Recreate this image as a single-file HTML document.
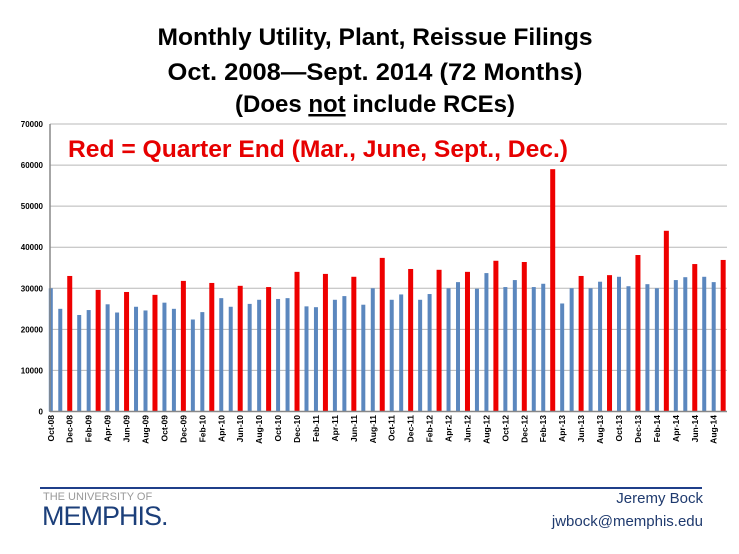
<!DOCTYPE html>
<html><head><meta charset="utf-8"><style>
html,body{margin:0;padding:0;background:#fff;}
</style></head><body>
<svg width="739" height="549" xmlns="http://www.w3.org/2000/svg" font-family="Liberation Sans, sans-serif">
<rect width="739" height="549" fill="#fff"/>
<g font-weight="bold" text-anchor="middle" fill="#000">
<text x="375" y="45" font-size="24.5" textLength="435" lengthAdjust="spacingAndGlyphs">Monthly Utility, Plant, Reissue Filings</text>
<text x="375" y="80" font-size="24.5" textLength="415" lengthAdjust="spacingAndGlyphs">Oct. 2008—Sept. 2014 (72 Months)</text>
<text x="375" y="112" font-size="24.5" textLength="280" lengthAdjust="spacingAndGlyphs">(Does <tspan text-decoration="underline">not</tspan> include RCEs)</text>
</g>
<g id="grid" stroke="#b8b8b8" stroke-width="1"></g>
<g id="bars"></g>
<line x1="50" y1="124" x2="50" y2="412" stroke="#888" stroke-width="1.5"/>
<line x1="50" y1="411.5" x2="727" y2="411.5" stroke="#888" stroke-width="1.5"/>
<g id="ylab" font-size="8" font-weight="bold" text-anchor="end" fill="#000"></g>
<g id="xlab" font-size="8.5" font-weight="bold" text-anchor="end" fill="#000"></g>
<text x="68" y="157" font-size="24" font-weight="bold" fill="#e60000" textLength="500" lengthAdjust="spacingAndGlyphs">Red = Quarter End (Mar., June, Sept., Dec.)</text>
<line x1="40" y1="488" x2="702" y2="488" stroke="#1f3f8a" stroke-width="2"/>
<text x="43" y="500" font-size="11" fill="#999">THE UNIVERSITY OF</text>
<text x="42" y="525" font-size="27" fill="#1c3f7a" letter-spacing="-1">MEMPHIS.</text>
<text x="703" y="503" font-size="15" fill="#1f3a6e" text-anchor="end">Jeremy Bock</text>
<text x="703" y="526" font-size="15" fill="#1f3a6e" text-anchor="end">jwbock@memphis.edu</text>
</svg>
<script>
var v=[30000,25000,33000,23500,24700,29600,26100,24100,29100,25500,24600,28400,26500,25000,31800,22400,24200,31300,27600,25500,30600,26200,27200,30300,27400,27600,34000,25600,25400,33500,27200,28100,32800,26000,30000,37400,27200,28500,34700,27200,28600,34500,30000,31500,34000,29900,33700,36700,30300,32000,36400,30300,31100,59000,26300,30000,33000,30000,31600,33200,32800,30500,38100,31000,30000,44000,32000,32700,35900,32800,31500,36900];
var mon=["Jan","Feb","Mar","Apr","May","Jun","Jul","Aug","Sep","Oct","Nov","Dec"];
var ns="http://www.w3.org/2000/svg";
function el(t,a,p,txt){var e=document.createElementNS(ns,t);for(var k in a)e.setAttribute(k,a[k]);if(txt)e.textContent=txt;document.getElementById(p).appendChild(e);}
var y0=411.5,sc=287.5/70000;
for(var i=0;i<=7;i++){var y=y0-i*10000*sc;if(i>0)el("line",{x1:50,y1:y,x2:727,y2:y},"grid");el("text",{x:43,y:y+3},"ylab",String(i*10000));}
for(var i=0;i<72;i++){var m=(9+i)%12,yr=8+Math.floor((9+i)/12);var q=(m==2||m==5||m==8||m==11);var x=50.8+i*9.47;var w=q?5:4;var h=v[i]*sc;
el("rect",{x:x-w/2,y:y0-h,width:w,height:h,fill:q?"#ee0000":"#5b87be"},"bars");
if(i%2==0){el("text",{transform:"translate("+(x+3)+",415) rotate(-90)",x:0,y:0},"xlab",mon[m]+"-"+(yr<10?"0":"")+yr);}}
</script>
</body></html>
